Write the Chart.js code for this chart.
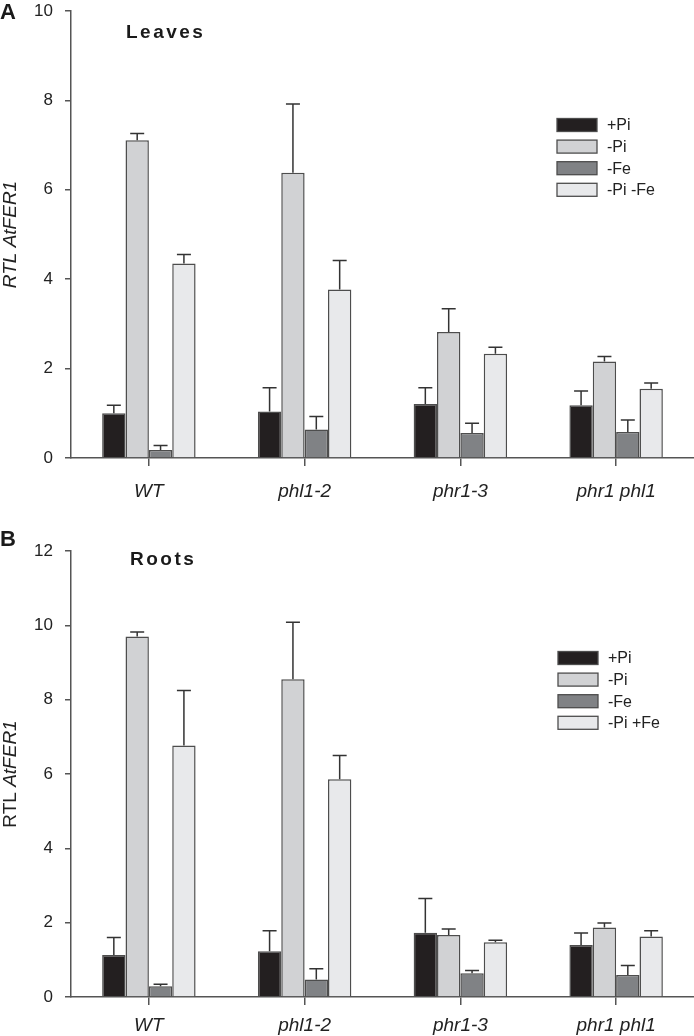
<!DOCTYPE html>
<html>
<head>
<meta charset="utf-8">
<script src="https://cdn.jsdelivr.net/npm/chart.js@4.4.1/dist/chart.umd.min.js"></script>
<style>
  html, body { margin: 0; padding: 0; background: #ffffff; }
  .panel { position: absolute; left: 0; width: 694px; height: 518px; }
  #pA { top: 0; }
  #pB { top: 518px; }
</style>
</head>
<body>
<div class="panel" id="pA"><canvas id="cA" width="694" height="518"></canvas></div>
<div class="panel" id="pB"><canvas id="cB" width="694" height="518"></canvas></div>
<script>
// ---- data ----
const categories = ['WT', 'phl1-2', 'phr1-3', 'phr1 phl1'];

const seriesNamesLeaves = ['+Pi', '-Pi', '-Fe', '-Pi -Fe'];
const seriesNamesRoots = ['+Pi', '-Pi', '-Fe', '-Pi +Fe'];

const leavesPlusPi = [1.0, 1.04, 1.21, 1.18];
const leavesPlusPiErr = [0.18, 0.53, 0.36, 0.32];
const leavesMinusPi = [7.11, 6.38, 2.82, 2.16];
const leavesMinusPiErr = [0.15, 1.54, 0.52, 0.11];
const leavesMinusFe = [0.18, 0.64, 0.56, 0.58];
const leavesMinusFeErr = [0.1, 0.29, 0.22, 0.27];
const leavesMinusPiFe = [4.35, 3.77, 2.33, 1.55];
const leavesMinusPiFeErr = [0.2, 0.65, 0.15, 0.13];

const rootsPlusPi = [1.13, 1.23, 1.73, 1.4];
const rootsPlusPiErr = [0.47, 0.55, 0.92, 0.32];
const rootsMinusPi = [9.7, 8.55, 1.67, 1.87];
const rootsMinusPiErr = [0.12, 1.53, 0.16, 0.12];
const rootsMinusFe = [0.29, 0.47, 0.64, 0.59];
const rootsMinusFeErr = [0.05, 0.29, 0.07, 0.26];
const rootsMinusPiPlusFe = [6.77, 5.86, 1.47, 1.63];
const rootsMinusPiPlusFeErr = [1.48, 0.64, 0.06, 0.15];

const leavesYTicks = [0, 2, 4, 6, 8, 10];
const rootsYTicks = [0, 2, 4, 6, 8, 10, 12];

// ---- styles ----
const fills = ['#231f20', '#d1d2d4', '#808285', '#e8e9eb'];
const edge = '#4d4d4d';
const axisColor = '#555555';
const FONT = "'Liberation Sans', Arial, sans-serif";

const errorBars = {
  id: 'errorBars',
  afterDatasetsDraw(chart) {
    const ctx = chart.ctx;
    const ys = chart.scales.y;
    ctx.save();
    ctx.strokeStyle = '#333333';
    ctx.lineWidth = 1.5;
    chart.data.datasets.forEach((ds, d) => {
      const meta = chart.getDatasetMeta(d);
      meta.data.forEach((el, i) => {
        const v = ds.data[i], e = ds.errors[i];
        const yTop = ys.getPixelForValue(v);
        const yErr = ys.getPixelForValue(v + e);
        const x = el.x;
        ctx.beginPath();
        ctx.moveTo(x, yTop);
        ctx.lineTo(x, yErr);
        ctx.moveTo(x - 7, yErr);
        ctx.lineTo(x + 7, yErr);
        ctx.stroke();
      });
    });
    ctx.restore();
  }
};

const decorations = {
  id: 'decorations',
  afterDraw(chart, args, opts) {
    const ctx = chart.ctx;
    const ca = chart.chartArea;
    ctx.save();
    // panel letter
    ctx.fillStyle = '#1a1a1a';
    ctx.textBaseline = 'middle';
    ctx.textAlign = 'left';
    ctx.font = 'bold 22px ' + FONT;
    ctx.fillText(opts.letter, 0, opts.letterY);
    // panel title
    ctx.font = 'bold 19px ' + FONT;
    ctx.letterSpacing = '2.5px';
    ctx.fillText(opts.title, opts.titleX, opts.titleY);
    ctx.letterSpacing = '0px';
    // y-axis title (rotated)
    const cy = (ca.top + ca.bottom) / 2;
    ctx.translate(11, cy);
    ctx.rotate(-Math.PI / 2);
    ctx.fillStyle = '#222222';
    const f1 = (opts.titleItalicAll ? 'italic ' : '') + '19px ' + FONT;
    const f2 = 'italic 19px ' + FONT;
    ctx.font = f1;
    const w1 = ctx.measureText('RTL ').width;
    ctx.font = f2;
    const w2 = ctx.measureText('AtFER1').width;
    let x0 = -(w1 + w2) / 2;
    ctx.font = f1;
    ctx.fillText('RTL ', x0, 0);
    ctx.font = f2;
    ctx.fillText('AtFER1', x0 + w1, 0);
    ctx.restore();

    // legend
    ctx.save();
    ctx.textBaseline = 'middle';
    ctx.textAlign = 'left';
    ctx.font = '16px ' + FONT;
    chart.data.datasets.forEach((ds, d) => {
      const y = opts.legendY + d * 21.6;
      ctx.fillStyle = ds.backgroundColor;
      ctx.fillRect(opts.legendX, y - 6.5, 40, 13);
      ctx.strokeStyle = edge;
      ctx.lineWidth = 1.3;
      ctx.strokeRect(opts.legendX, y - 6.5, 40, 13);
      ctx.fillStyle = '#222222';
      ctx.fillText(ds.label, opts.legendX + 50, y + 1);
    });
    ctx.restore();
  }
};

function makeDatasets(names, values, errs) {
  return names.map((n, k) => ({
    label: n,
    data: values[k],
    errors: errs[k],
    backgroundColor: fills[k],
    borderColor: edge,
    borderWidth: 1.5,
    borderSkipped: 'bottom',
    categoryPercentage: 0.6,
    barPercentage: 1.0
  }));
}

function makeChart(canvasId, cfg) {
  return new Chart(document.getElementById(canvasId), {
    type: 'bar',
    data: { labels: categories, datasets: cfg.datasets },
    options: {
      responsive: false,
      animation: false,
      layout: { padding: { top: cfg.padTop, left: 0, right: 0, bottom: 0 } },
      plugins: {
        legend: { display: false },
        tooltip: { enabled: false },
        decorations: cfg.deco
      },
      scales: {
        x: {
          type: 'category',
          offset: true,
          afterFit(scale) { scale.height = cfg.xHeight; },
          grid: {
            display: true, drawOnChartArea: false, drawTicks: true,
            tickLength: 8, offset: false, color: axisColor, lineWidth: 1.5
          },
          border: { display: true, color: axisColor, width: 1.5 },
          ticks: {
            color: '#222222', padding: cfg.xPad,
            font: { family: FONT, size: 19, style: 'italic' }
          }
        },
        y: {
          min: 0, max: cfg.yMax,
          afterFit(scale) {
            scale.width = 71;
            scale.paddingTop = 0;
            scale.paddingBottom = 0;
          },
          afterBuildTicks(scale) { scale.ticks = cfg.yTicks.map(v => ({ value: v })); },
          grid: {
            display: true, drawOnChartArea: false, drawTicks: true,
            tickLength: 6, color: axisColor, lineWidth: 1.5
          },
          border: { display: true, color: axisColor, width: 1.5 },
          ticks: {
            color: '#222222', padding: 12,
            font: { family: FONT, size: 17 }
          }
        }
      }
    },
    plugins: [errorBars, decorations]
  });
}

makeChart('cA', {
  datasets: makeDatasets(seriesNamesLeaves,
    [leavesPlusPi, leavesMinusPi, leavesMinusFe, leavesMinusPiFe],
    [leavesPlusPiErr, leavesMinusPiErr, leavesMinusFeErr, leavesMinusPiFeErr]),
  padTop: 11, xHeight: 60, xPad: 14, yMax: 10, yTicks: leavesYTicks,
  deco: { letter: 'A', letterY: 13, title: 'Leaves', titleX: 126, titleY: 33,
          titleItalicAll: true, legendX: 557, legendY: 125 }
});

makeChart('cB', {
  datasets: makeDatasets(seriesNamesRoots,
    [rootsPlusPi, rootsMinusPi, rootsMinusFe, rootsMinusPiPlusFe],
    [rootsPlusPiErr, rootsMinusPiErr, rootsMinusFeErr, rootsMinusPiPlusFeErr]),
  padTop: 33, xHeight: 39, xPad: 9, yMax: 12, yTicks: rootsYTicks,
  deco: { letter: 'B', letterY: 22, title: 'Roots', titleX: 130, titleY: 42,
          titleItalicAll: false, legendX: 558, legendY: 140 }
});
</script>
</body>
</html>
